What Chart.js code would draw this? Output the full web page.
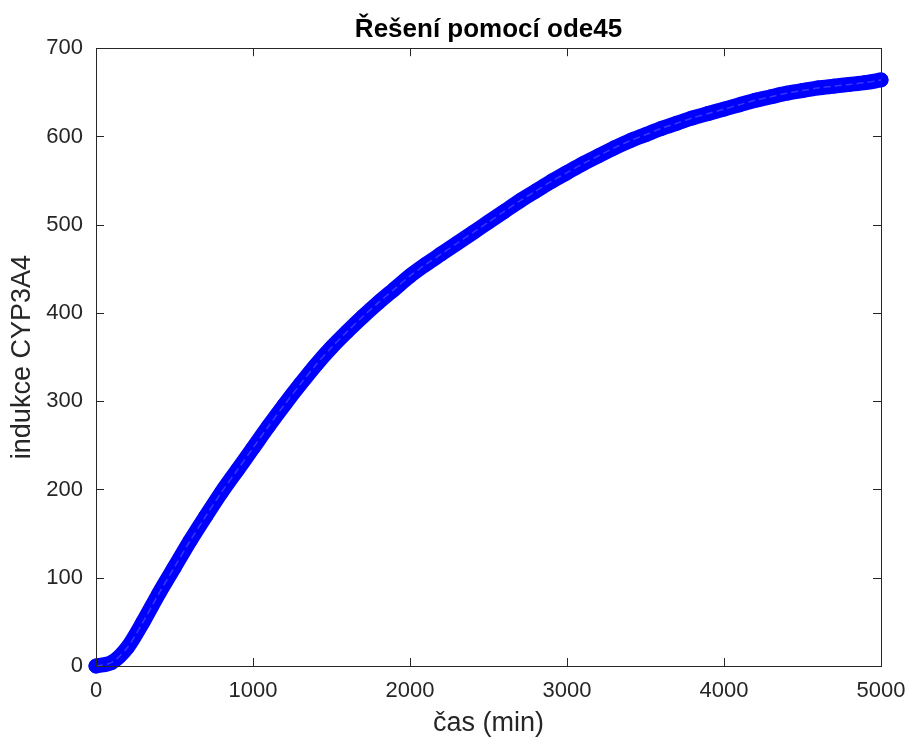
<!DOCTYPE html>
<html>
<head>
<meta charset="utf-8">
<title>Řešení pomocí ode45</title>
<script src="https://cdn.jsdelivr.net/npm/chart.js@4.4.1/dist/chart.umd.min.js"></script>
<style>
  html, body { margin: 0; padding: 0; background: #fff; }
  #wrap { width: 909px; height: 740px; }
</style>
</head>
<body>
<div id="wrap"><canvas id="myChart" width="909" height="740"></canvas></div>
<script>
// casova osa (min) a odectene hodnoty indukce CYP3A4
const casMin = [
  0, 100, 200, 300, 400, 500, 600, 700, 800, 900,
  1000, 1100, 1200, 1300, 1400, 1500, 1600, 1700, 1800, 1900,
  2000, 2100, 2200, 2300, 2400, 2500, 2600, 2700, 2800, 2900,
  3000, 3100, 3200, 3300, 3400, 3500, 3600, 3700, 3800, 3900,
  4000, 4100, 4200, 4300, 4400, 4500, 4600, 4700, 4800, 4900, 5000
];
const indukce = [
  0, 4, 21, 50, 82, 112, 142, 170, 197, 222,
  247, 272, 296, 319, 341, 361, 379, 396, 412, 427,
  442, 455, 467, 479, 491, 503, 515, 527, 538, 549,
  559, 569, 578, 587, 595, 602, 609, 615, 621, 626,
  631, 636, 641, 645, 649, 652, 655, 657, 659, 661, 664
];
const xTicks = [0, 1000, 2000, 3000, 4000, 5000];
const yTicks = [0, 100, 200, 300, 400, 500, 600, 700];

const points = casMin.map((t, i) => ({ x: t, y: indukce[i] }));

const axisColor = '#262626';
const fontFamily = '"Liberation Sans", Arial, Helvetica, sans-serif';

// matlab-like box with inward ticks
const boxPlugin = {
  id: 'boxPlugin',
  afterDatasetsDraw(chart) {
    const ctx = chart.ctx;
    const a = chart.chartArea;
    const xs = chart.scales.x;
    const ys = chart.scales.y;
    const len = 8;
    ctx.save();
    ctx.strokeStyle = axisColor;
    ctx.lineWidth = 1;
    ctx.strokeRect(Math.round(a.left) + 0.5, Math.round(a.top) + 0.5,
      Math.round(a.right - a.left), Math.round(a.bottom - a.top));
    ctx.beginPath();
    xTicks.forEach((v) => {
      const px = Math.round(xs.getPixelForValue(v)) + 0.5;
      ctx.moveTo(px, a.bottom);
      ctx.lineTo(px, a.bottom - len);
      ctx.moveTo(px, a.top);
      ctx.lineTo(px, a.top + len);
    });
    yTicks.forEach((v) => {
      const py = Math.round(ys.getPixelForValue(v)) + 0.5;
      ctx.moveTo(a.left, py);
      ctx.lineTo(a.left + len, py);
      ctx.moveTo(a.right, py);
      ctx.lineTo(a.right - len, py);
    });
    ctx.stroke();
    ctx.restore();
  }
};

const config = {
  type: 'line',
  data: {
    datasets: [{
      label: 'cara',
      data: points,
      order: 0,
      borderColor: 'rgba(90,90,255,0.6)',
      borderWidth: 1.5,
      borderDash: [7, 4],
      pointRadius: 0,
      fill: false,
      tension: 0.3,
      clip: false
    }, {
      label: 'indukce',
      data: points,
      order: 1,
      borderColor: '#0000ff',
      borderWidth: 15,
      borderCapStyle: 'round',
      borderJoinStyle: 'round',
      pointRadius: 7,
      pointBorderWidth: 1,
      pointBorderColor: '#0000ff',
      pointBackgroundColor: '#0000ff',
      fill: false,
      tension: 0.3,
      clip: false
    }]
  },
  options: {
    responsive: false,
    animation: false,
    layout: { padding: { left: 0, right: 28, top: 0, bottom: 0 } },
    plugins: {
      legend: { display: false },
      tooltip: { enabled: false },
      title: {
        display: true,
        fullSize: false,
        text: 'Řešení pomocí ode45',
        color: '#000',
        font: { family: fontFamily, size: 26, weight: 'bold' },
        padding: { top: 14, bottom: 3 }
      }
    },
    scales: {
      x: {
        type: 'linear',
        min: 0,
        max: 5000,
        afterFit: (s) => {
          s.height = 74;
          s.paddingLeft = 0;
          s.paddingRight = 0;
        },
        afterBuildTicks: (s) => { s.ticks = xTicks.map((v) => ({ value: v })); },
        grid: { display: false, drawTicks: false },
        border: { display: false },
        ticks: {
          color: axisColor,
          padding: 12,
          maxRotation: 0,
          callback: (v) => String(v),
          font: { family: fontFamily, size: 22 }
        },
        title: {
          display: true,
          text: 'čas (min)',
          color: axisColor,
          font: { family: fontFamily, size: 27 },
          padding: { top: 0, bottom: 0 }
        }
      },
      y: {
        type: 'linear',
        min: 0,
        max: 700,
        afterFit: (s) => { s.width = 96; },
        afterBuildTicks: (s) => { s.ticks = yTicks.map((v) => ({ value: v })); },
        grid: { display: false, drawTicks: false },
        border: { display: false },
        ticks: {
          color: axisColor,
          padding: 13,
          callback: (v) => String(v),
          font: { family: fontFamily, size: 22 }
        },
        title: {
          display: true,
          text: 'indukce CYP3A4',
          color: axisColor,
          font: { family: fontFamily, size: 27 },
          padding: { top: 6, bottom: 0 }
        }
      }
    }
  },
  plugins: [boxPlugin]
};

const myChart = new Chart(document.getElementById('myChart'), config);
</script>
</body>
</html>
